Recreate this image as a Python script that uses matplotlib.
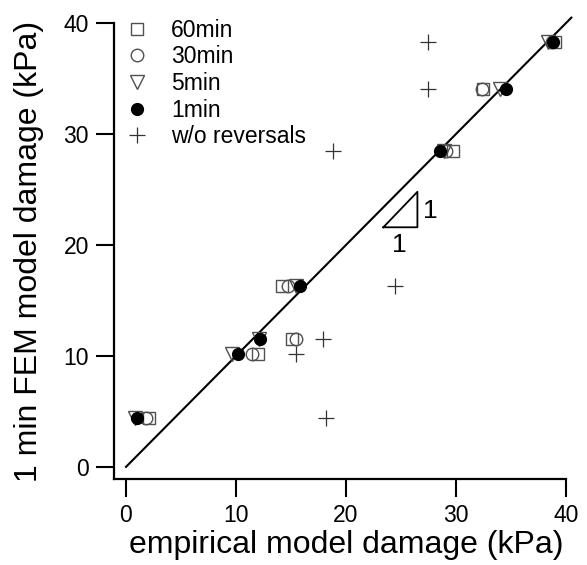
import matplotlib
matplotlib.use("Agg")
import matplotlib.pyplot as plt

# ==========================================
# DATA
# ==========================================
fem_1min = [4.4, 10.2, 11.5, 16.3, 28.5, 34.1, 38.3]

emp_60min = [2.1, 12.0, 15.1, 14.2, 29.7, 32.5, 39.0]
emp_30min = [1.8, 11.5, 15.5, 14.7, 29.1, 32.4, 38.7]
emp_5min = [0.8, 9.6, 12.1, 15.5, 28.9, 34.0, 38.4]
emp_1min = [1.0, 10.2, 12.2, 15.8, 28.6, 34.6, 38.8]
emp_no_rev = [18.2, 15.5, 17.9, 24.5, 18.8, 27.5, 27.5]

ticks = [0, 10, 20, 30, 40]

# ==========================================
# PLOT
# ==========================================
plt.rcParams["font.family"] = ["Liberation Sans", "DejaVu Sans"]

fig = plt.figure(figsize=(5.87, 5.65), dpi=100)
ax = fig.add_axes([0.194, 0.152, 0.770, 0.807])

gray = "#505050"
ax.plot(emp_60min, fem_1min, "s", ms=9, mfc="none", mec=gray, mew=1.0,
        ls="none", label="60min")
ax.plot(emp_30min, fem_1min, "o", ms=9, mfc="none", mec=gray, mew=1.0,
        ls="none", label="30min")
ax.plot(emp_5min, fem_1min, "v", ms=9.5, mfc="none", mec=gray, mew=1.0,
        ls="none", label="5min")
ax.plot(emp_1min, fem_1min, "o", ms=8.5, mfc="black", mec="black",
        ls="none", label="1min")
ax.plot(emp_no_rev, fem_1min, "+", ms=11, mec="#333333", mew=0.9,
        ls="none", label="w/o reversals")

# 1:1 line
ax.plot([0, 40.5], [0, 40.5], color="black", lw=1.5, clip_on=False, zorder=1)

# slope triangle
ax.plot([23.4, 26.5, 26.5, 23.4], [21.6, 21.6, 24.8, 21.6],
        color="black", lw=1.3)
ax.text(27.0, 23.1, "1", fontsize=19, ha="left", va="center")
ax.text(24.9, 20.0, "1", fontsize=19, ha="center", va="center")

ax.set_xlim(-1.1, 40)
ax.set_ylim(-1.1, 40)
ax.set_xticks(ticks)
ax.set_yticks(ticks)
ax.tick_params(direction="out", length=13, width=1.5, labelsize=16.5, pad=5)

for side in ["top", "right"]:
    ax.spines[side].set_visible(False)
for side in ["left", "bottom"]:
    ax.spines[side].set_linewidth(1.6)

ax.set_xlabel("empirical model damage (kPa)", fontsize=23, labelpad=3)
ax.xaxis.set_label_coords(0.515, -0.112)
ax.set_ylabel("1 min FEM model damage (kPa)", fontsize=23, labelpad=14)

ax.legend(loc="upper left", bbox_to_anchor=(0.025, 1.01), frameon=False,
          fontsize=16.5, handlelength=1.0, handletextpad=1.0,
          labelspacing=0.16, borderaxespad=0, borderpad=0)

fig.savefig("out.png", dpi=100)
